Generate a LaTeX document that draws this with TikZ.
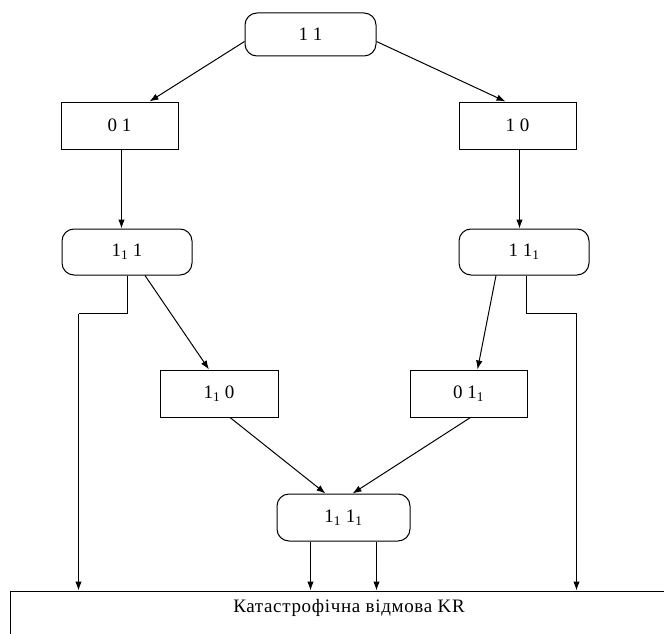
\documentclass[tikz,border=0pt]{standalone}
\usepackage{fontspec}
\setmainfont{Liberation Serif}
\usetikzlibrary{arrows.meta}
\begin{document}
\begin{tikzpicture}[x=1pt,y=-1pt,
  txt/.style={font=\fontsize{19}{22}\selectfont},
  base/.style={draw, line width=1pt, inner sep=0pt, txt},
  rbox/.style={base, rounded corners=12pt},
  sbox/.style={base, rectangle},
  arr/.style={line width=1pt, -{Latex[length=9pt,width=6.5pt]}},
  ln/.style={line width=1pt}]
\useasboundingbox (0,0) rectangle (664,634);
\clip (0,0) rectangle (664,634);
\node[rbox, minimum width=131pt, minimum height=43pt] (n11) at (310.5,34.5) {1 1};
\node[sbox, minimum width=117pt, minimum height=47pt] (n01) at (119.5,125.5) {0 1};
\node[sbox, minimum width=117pt, minimum height=47pt] (n10) at (517.5,125.5) {1 0};
\node[rbox, minimum width=130pt, minimum height=46pt] (n1a) at (127,252) {1\textsubscript{1} 1};
\node[rbox, minimum width=130pt, minimum height=46pt] (n1b) at (524,252) {1 1\textsubscript{1}};
\node[sbox, minimum width=118pt, minimum height=47pt] (n10s) at (219,393.5) {1\textsubscript{1} 0};
\node[sbox, minimum width=117pt, minimum height=47pt] (n01s) at (468.5,393.5) {0 1\textsubscript{1}};
\node[rbox, minimum width=133pt, minimum height=47pt] (nbot) at (343.5,517.5) {1\textsubscript{1} 1\textsubscript{1}};
\node[sbox, minimum width=680pt, minimum height=60pt, anchor=north west] (kr) at (9.5,590.5) {};
\node[txt] (krt) at (349,608) {\addfontfeatures{LetterSpace=3.5}Катастрофічна відмова KR};
% connectors
\draw[arr] ([yshift=-7pt]n11.west) -- ([xshift=30pt]n01.north);
\draw[arr] ([yshift=-7pt]n11.east) -- ([xshift=-12pt]n10.north);
\coordinate (a1) at ([xshift=2pt]n01.south);
\draw[arr] (a1) -- (a1 |- n1a.north);
\coordinate (a2) at ([xshift=2pt]n10.south);
\draw[arr] (a2) -- (a2 |- n1b.north);
\draw[arr] ([xshift=18pt]n1a.south) -- ([xshift=-10pt]n10s.north);
\draw[arr] ([xshift=-28pt]n1b.south) -- ([xshift=9pt]n01s.north);
\coordinate (jl) at (78.5,313.5);
\coordinate (kl) at (78.5,590.5);
\draw[ln] (n1a.south) |- (jl);
\draw[arr] (jl) -- (kl);
\coordinate (jr) at (576.5,313.5);
\coordinate (kr2) at (576.5,590.5);
\draw[ln] ([xshift=2pt]n1b.south) |- (jr);
\draw[arr] (jr) -- (kr2);
\draw[arr] ([xshift=11pt]n10s.south) -- ([xshift=-18pt]nbot.north);
\draw[arr] ([xshift=2pt]n01s.south) -- ([xshift=9pt]nbot.north);
\coordinate (b1) at ([xshift=-33pt]nbot.south);
\coordinate (b2) at ([xshift=33pt]nbot.south);
\draw[arr] (b1) -- (b1 |- kr.north);
\draw[arr] (b2) -- (b2 |- kr.north);
\end{tikzpicture}
\end{document}
